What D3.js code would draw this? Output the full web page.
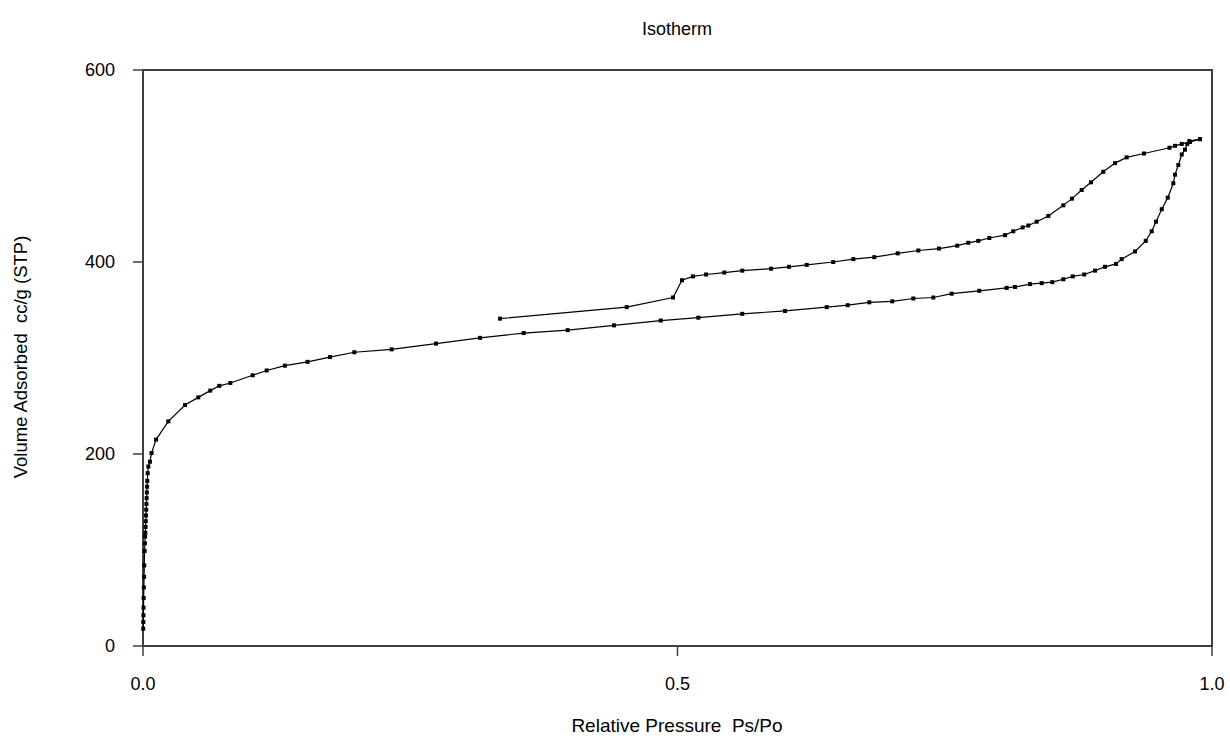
<!DOCTYPE html>
<meta charset="utf-8">
<style>
body { margin: 0; background: #fff; }
svg text { font-family: "Liberation Sans", Arial, sans-serif; fill: #000; }
.frame { fill: none; stroke: #404040; stroke-width: 2px; }
.tick { stroke: #404040; stroke-width: 1.5px; }
.line { fill: none; stroke: #000; stroke-width: 1.2px; }
</style>
<svg width="1230" height="742"></svg>
<script src="https://cdn.jsdelivr.net/npm/d3@7"></script>
<script>

// adsorption branch (relative pressure, volume cc/g)
var adsX = [0.0002, 0.0003, 0.0004, 0.0005, 0.0006, 0.0008, 0.001, 0.0012, 0.0015, 0.0018, 0.002,
  0.0022, 0.0024, 0.0026, 0.0028, 0.003, 0.0032, 0.0034, 0.0036, 0.0038, 0.004, 0.0044, 0.005,
  0.0065, 0.008, 0.0122, 0.0237, 0.0393, 0.0517, 0.0629, 0.0714, 0.0817, 0.1026, 0.1157, 0.1328,
  0.1539, 0.1749, 0.1977, 0.2326, 0.2741, 0.3153, 0.3561, 0.3973, 0.4406, 0.4843, 0.5195, 0.5606,
  0.6006, 0.6396, 0.6592, 0.6794, 0.7009, 0.7206, 0.7393, 0.7565, 0.7823, 0.8079, 0.8157, 0.8297,
  0.8407, 0.8506, 0.8609, 0.8697, 0.8805, 0.8906, 0.8999, 0.9102, 0.9155, 0.928, 0.938, 0.9436,
  0.9476, 0.953, 0.9586, 0.9638, 0.9654, 0.9685, 0.9717, 0.9747, 0.9769, 0.9788, 0.9888];
var adsY = [18, 25, 32, 40, 50, 61, 72, 84, 99, 107, 114,
  118, 124, 130, 136, 142, 148, 154, 160, 166, 172, 180, 187,
  192, 201, 215, 234, 251, 259, 266, 271, 274, 282, 287, 292,
  296, 301, 306, 309, 315, 321, 326, 329, 334, 339, 342, 346,
  349, 353, 355, 358, 359, 362, 363, 367, 370, 373, 374, 377,
  378, 379, 382, 385, 387, 391, 395, 398, 403, 411, 422, 432,
  442, 455, 467, 482, 491, 501, 512, 517, 523, 526, 528];

// desorption branch
var desX = [0.9888, 0.9794, 0.9717, 0.9654, 0.9602, 0.9364, 0.9202, 0.9093, 0.8983, 0.8868, 0.8781,
  0.869, 0.8609, 0.8469, 0.836, 0.8282, 0.8229, 0.8141, 0.8064, 0.7917, 0.7814, 0.772, 0.7617,
  0.7446, 0.7253, 0.706, 0.6841, 0.6645, 0.6457, 0.6209, 0.6043, 0.5875, 0.5606, 0.5438, 0.5267,
  0.5145, 0.5042, 0.4958, 0.4525, 0.334];
var desY = [528, 525, 523, 521, 519, 513, 509, 503, 494, 483, 475,
  466, 459, 448, 442, 438, 436, 432, 428, 425, 422, 420, 417,
  414, 412, 409, 405, 403, 400, 397, 395, 393, 391, 389, 387,
  385, 381, 363, 353, 341];

var xTicks = [0, 0.5, 1];
var yTicks = [0, 200, 400, 600];

var svg = d3.select("svg");
var mLeft = 143, mRight = 1212, mTop = 70, mBottom = 646;

var x = d3.scaleLinear().domain([0, 1]).range([mLeft, mRight]);
var y = d3.scaleLinear().domain([0, 600]).range([mBottom, mTop]);

var ads = adsX.map(function(v, i) { return [v, adsY[i]]; });
var des = desX.map(function(v, i) { return [v, desY[i]]; });

svg.append("text")
  .attr("x", 677).attr("y", 35)
  .attr("text-anchor", "middle")
  .style("font-size", "18px")
  .text("Isotherm");

// frame
svg.append("rect").attr("class", "frame")
  .attr("x", mLeft).attr("y", mTop)
  .attr("width", mRight - mLeft).attr("height", mBottom - mTop);

// y ticks
svg.selectAll("line.ytick").data(yTicks).enter().append("line")
  .attr("class", "tick")
  .attr("x1", mLeft - 10).attr("x2", mLeft)
  .attr("y1", function(d) { return y(d); })
  .attr("y2", function(d) { return y(d); });
svg.selectAll("text.ylab").data(yTicks).enter().append("text")
  .attr("class", "ylab")
  .attr("x", mLeft - 28).attr("y", function(d) { return y(d) + 6; })
  .attr("text-anchor", "end")
  .style("font-size", "18px")
  .text(function(d) { return d; });

// x ticks
svg.selectAll("line.xtick").data(xTicks).enter().append("line")
  .attr("class", "tick")
  .attr("x1", function(d) { return x(d); })
  .attr("x2", function(d) { return x(d); })
  .attr("y1", mBottom).attr("y2", mBottom + 10);
svg.selectAll("text.xlab").data(xTicks).enter().append("text")
  .attr("class", "xlab")
  .attr("x", function(d) { return x(d); }).attr("y", 690)
  .attr("text-anchor", "middle")
  .style("font-size", "18px")
  .text(function(d) { return d3.format(".1f")(d); });

svg.append("text")
  .attr("x", 677).attr("y", 732)
  .attr("text-anchor", "middle")
  .style("font-size", "19px")
  .attr("xml:space", "preserve")
  .text("Relative Pressure  Ps/Po");

svg.append("text")
  .attr("transform", "translate(27,357) rotate(-90)")
  .attr("text-anchor", "middle")
  .style("font-size", "18.5px")
  .attr("xml:space", "preserve")
  .text("Volume Adsorbed  cc/g (STP)");

var line = d3.line()
  .x(function(d) { return x(d[0]); })
  .y(function(d) { return y(d[1]); });

[ads, des].forEach(function(s) {
  svg.append("path").datum(s).attr("class", "line").attr("d", line);
  svg.append("g").selectAll("rect").data(s).enter().append("rect")
    .attr("x", function(d) { return x(d[0]) - 2; })
    .attr("y", function(d) { return y(d[1]) - 2; })
    .attr("width", 4).attr("height", 4)
    .style("fill", "#000");
});
</script>
